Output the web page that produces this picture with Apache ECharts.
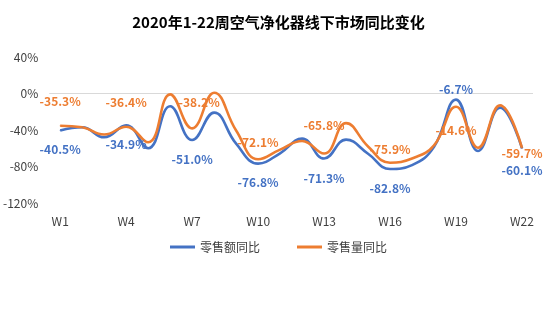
<!DOCTYPE html>
<html>
<head>
<meta charset="utf-8">
<title>2020年1-22周空气净化器线下市场同比变化</title>
<script src="https://cdn.jsdelivr.net/npm/echarts@6/dist/echarts.min.js"></script>
<style>
  html, body { margin: 0; padding: 0; background: #ffffff; }
  #chart { width: 557px; height: 326px; }
</style>
</head>
<body>
<div id="chart"></div>
<script>
// Weeks 1-22 of 2020
const weeks = ['W1','W2','W3','W4','W5','W6','W7','W8','W9','W10','W11',
               'W12','W13','W14','W15','W16','W17','W18','W19','W20','W21','W22'];

// Year-on-year change of offline retail sales value (%)
const salesValueYoY = [-40.5, -37.0, -48.0, -34.9, -60.0, -14.0, -51.0, -21.0, -55.0, -76.8, -65.5,
                       -49.5, -71.3, -50.5, -66.0, -82.8, -78.5, -58.5, -6.7, -63.0, -15.5, -60.1];

// Year-on-year change of offline retail sales volume (%)
const salesVolumeYoY = [-35.3, -37.0, -45.0, -36.4, -53.5, -1.0, -38.2, 0.8, -40.5, -72.1, -61.5,
                        -52.0, -65.8, -32.5, -58.0, -75.9, -71.3, -56.8, -14.6, -59.5, -13.0, -59.7];

const seriesNames = ['零售额同比', '零售量同比'];

// Value-axis ticks
const yTicks = { min: -120, max: 40, step: 40 };

// Weeks that carry a value label
const labelledWeeks = [0, 3, 6, 9, 12, 15, 18, 21];

const BLUE = '#4472C4';
const ORANGE = '#ED7D31';
const AXIS_TEXT = '#404040';
const FONT = '"Noto Sans CJK SC", "Noto Sans", sans-serif';

// Label placement per labelled week
const valueLabelPlace = {
  0: ['bottom', 12], 3: ['bottom', 13], 6: ['bottom', 13], 9: ['bottom', 12],
  12: ['bottom', 13], 15: ['bottom', 13], 18: ['top', 4], 21: ['bottom', 16]
};
const volumeLabelPlace = {
  0: ['top', 18], 3: ['top', 18], 6: ['top', 19, [7, 0]], 9: ['top', 10],
  12: ['top', 22], 15: ['top', 7], 18: ['bottom', 17], 21: ['bottom', -1]
};

function buildData(values, color, place) {
  return values.map(function (v, i) {
    if (labelledWeeks.indexOf(i) < 0) return v;
    const p = place[i];
    return {
      value: v,
      label: {
        show: true,
        position: p[0],
        distance: p[1],
        offset: p[2] || [0, 0],
        color: color,
        fontSize: 12,
        fontWeight: 'bold',
        fontFamily: FONT,
        formatter: function (d) { return d.value.toFixed(1) + '%'; }
      }
    };
  });
}

function lineSeries(name, values, color, place, extra) {
  return Object.assign({
    name: name,
    type: 'line',
    data: buildData(values, color, place),
    smooth: 0.45,
    symbol: 'circle',
    symbolSize: 1,
    showSymbol: true,
    itemStyle: { color: color },
    lineStyle: { color: color, width: 2.6 },
    emphasis: { disabled: true },
    z: 3
  }, extra || {});
}

const chart = echarts.init(document.getElementById('chart'), null, { renderer: 'canvas' });

chart.setOption({
  animation: false,
  backgroundColor: '#ffffff',
  textStyle: { fontFamily: FONT },
  title: {
    text: '2020年1-22周空气净化器线下市场同比变化',
    left: 'center',
    top: 10,
    textStyle: { fontSize: 15, fontWeight: 'bold', color: '#000000', fontFamily: FONT }
  },
  legend: {
    data: seriesNames,
    left: 'center',
    top: 236,
    icon: 'rect',
    itemWidth: 25,
    itemHeight: 3,
    itemGap: 37,
    textStyle: { fontSize: 12, color: AXIS_TEXT, fontFamily: FONT }
  },
  grid: { left: 48, right: 24, top: 57, bottom: 123, containLabel: false },
  xAxis: {
    type: 'category',
    data: weeks,
    boundaryGap: true,
    axisLine: { show: false },
    axisTick: { show: false },
    axisLabel: { interval: 2, color: AXIS_TEXT, fontSize: 12, margin: 12, fontFamily: FONT },
    splitLine: { show: false }
  },
  yAxis: {
    type: 'value',
    min: yTicks.min,
    max: yTicks.max,
    interval: yTicks.step,
    axisLine: { show: false },
    axisTick: { show: false },
    splitLine: { show: false },
    axisLabel: { formatter: '{value}%', color: AXIS_TEXT, fontSize: 12, margin: 11, fontFamily: FONT }
  },
  series: [
    lineSeries(seriesNames[0], salesValueYoY, BLUE, valueLabelPlace, {
      markLine: {
        silent: true,
        symbol: 'none',
        label: { show: false },
        lineStyle: { color: '#D9D9D9', width: 1, type: 'solid' },
        data: [{ yAxis: 0 }],
        z: 1
      }
    }),
    lineSeries(seriesNames[1], salesVolumeYoY, ORANGE, volumeLabelPlace)
  ]
});
</script>
</body>
</html>
